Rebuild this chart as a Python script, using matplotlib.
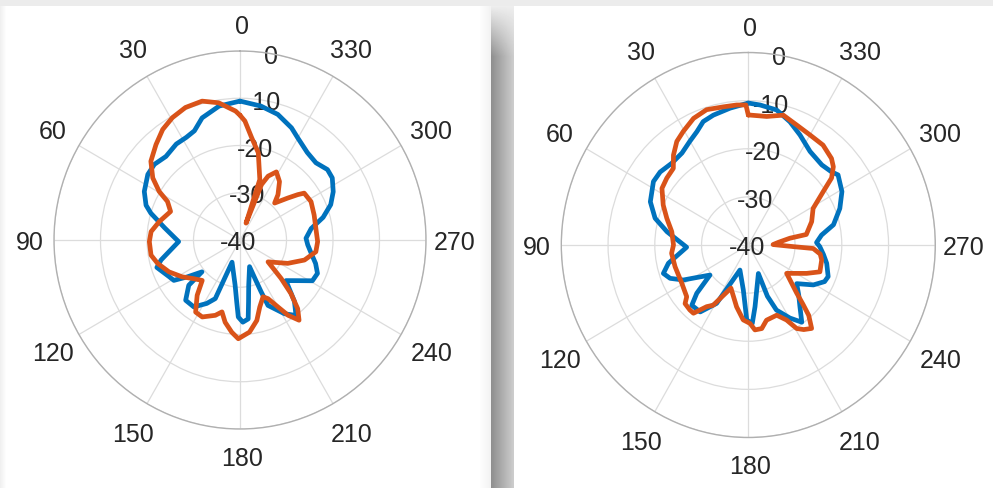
import numpy as np
import matplotlib
matplotlib.use("Agg")
import matplotlib.pyplot as plt
from matplotlib.ticker import NullFormatter

plt.rcParams["font.family"] = ["Liberation Sans", "DejaVu Sans"]

# ---- axes ticks -------------------------------------------------------------
theta_ticks = list(range(0, 360, 30))
theta_labels = [str(t) for t in theta_ticks]
r_ticks = [-40, -30, -20, -10, 0]
r_labels = [str(r) for r in r_ticks]

# ---- radiation patterns (angle in degrees, level in dB) ---------------------
left_blue_deg = [0, 9, 17.5, 23, 28, 34, 42, 49, 55, 63.5,
                 70, 73.5, 81, 91.5, 104, 108, 117, 121, 124.5, 129.5,
                 131, 137.5, 145, 152, 156.8, 160, 173.7, 176.9, 178.7, 182,
                 186, 188, 191, 200, 201.5, 202.5, 203.5, 211.5, 217, 222,
                 229, 235, 241, 247, 253, 260, 266, 271.5, 279, 285,
                 291, 297, 303.5, 308.4, 315, 322, 330, 335, 343, 351,
                 360]
left_blue_db = [-10.6, -11.3, -12.9, -14.9, -15.4, -15.5, -16.2, -15.6, -15.8, -17.0,
                -18.5, -20.0, -23.6, -26.8, -22.5, -21.2, -22.9, -23.4, -26.2, -29.4,
                -25.4, -22.7, -22.7, -24.8, -26.5, -35.0, -30.4, -26.9, -23.7, -22.6,
                -23.2, -26.8, -30.2, -34.0, -31.3, -28.2, -24.9, -21.7, -20.0, -22.5,
                -26.9, -25.0, -22.2, -21.9, -23.0, -24.5, -25.4, -25.8, -24.5, -21.5,
                -19.1, -17.5, -16.2, -16.0, -16.9, -16.5, -15.1, -13.8, -12.2, -11.3,
                -10.6]

left_orange_deg = [0, 2, 9, 15.5, 22.7, 29.3, 35.4, 41.8, 49, 55,
                   59.4, 62.4, 68, 77.4, 84.7, 91, 99.5, 105.6, 113.8, 122,
                   129.4, 136.5, 141.8, 148, 153.5, 161.6, 165.7, 169.6, 174.8, 179,
                   186, 192, 196.7, 202.4, 205.9, 210, 213, 216.8, 220.5, 224,
                   227.4, 232.5, 244.3, 253, 261.3, 268.8, 278.7, 288.4, 298, 305.7,
                   307.7, 310.8, 316.4, 319.6, 325.5, 331.5, 335.9, 338.5, 340, 341.6,
                   348, 353.4, 357.6, 360]
left_orange_db = [-13.6, -12.7, -10.6, -9.5, -9.6, -10.3, -11.3, -12.9, -14.6, -17.1,
                  -19.8, -22.4, -23.9, -22.2, -20.8, -20.5, -20.6, -21.6, -23.3, -25.3,
                  -27.1, -28.2, -25.1, -22.0, -21.8, -23.2, -24.3, -22.3, -20.4, -19.1,
                  -20.4, -22.6, -25.2, -27.0, -26.2, -23.6, -21.0, -18.8, -20.9, -24.2,
                  -28.0, -32.4, -28.6, -25.5, -23.5, -23.3, -23.5, -23.2, -22.7, -23.0,
                  -24.3, -26.4, -29.2, -27.4, -25.0, -23.6, -25.2, -27.4, -36.2, -26.5,
                  -21.1, -18.2, -14.8, -13.6]

right_blue_deg = [0, 7.8, 15.5, 20.6, 25, 30.2, 36.6, 44, 51.2, 57,
                  66.8, 74.4, 81, 92, 102.5, 108, 112.5, 117.6, 127.3, 132.3,
                  136, 143.5, 150.8, 161, 173.5, 178.8, 183, 186.4, 200, 201,
                  204, 210.4, 215.5, 220.8, 226, 232.2, 239.2, 245, 249, 257.2,
                  263, 268.7, 272, 277.5, 283, 291.2, 299, 307.2, 310.5, 316.6,
                  325.8, 334.2, 340.8, 347.8, 355, 360]
right_blue_db = [-10.5, -11.3, -12.0, -12.6, -14.0, -15.1, -16.2, -16.4, -15.8, -15.8,
                 -17.2, -19.3, -22.4, -26.8, -22.5, -20.9, -21.9, -24.3, -29.7, -25.1,
                 -22.6, -22.7, -26.1, -34.5, -30.6, -24.4, -23.7, -27.1, -33.7, -28.6,
                 -25.2, -22.4, -20.3, -23.1, -25.0, -26.9, -23.8, -22.0, -21.7, -22.8,
                 -23.8, -24.7, -25.4, -24.2, -21.3, -19.0, -17.1, -15.9, -16.6, -17.1,
                 -16.5, -14.6, -12.9, -11.3, -10.8, -10.5]

right_orange_deg = [0, 1, 4.9, 10.5, 17.6, 24, 30.5, 35.4, 40.6, 45.2,
                    51.4, 57.5, 65.5, 72.3, 80.4, 90, 96, 106, 119.4, 129.2,
                    132, 137.2, 140.4, 145.2, 149, 157.5, 169, 176, 181.3, 184.6,
                    189.4, 194, 202.6, 207.7, 210.8, 214, 218, 221.5, 223.5, 226,
                    234.3, 244.7, 250, 258.8, 263, 267, 268, 271, 275, 279,
                    280, 289.7, 298.7, 304.7, 308, 311.8, 315.3, 322.4, 330, 337.5,
                    344.5, 351.6, 359.2, 360]
right_orange_db = [-13.0, -10.9, -10.8, -10.8, -10.5, -11.2, -12.6, -13.6, -15.4, -17.4,
                   -17.7, -18.1, -20.0, -21.7, -23.4, -24.0, -23.5, -23.7, -23.7, -23.0,
                   -21.8, -21.6, -21.6, -24.4, -25.4, -30.3, -26.9, -24.4, -23.7, -22.3,
                   -22.4, -23.9, -24.2, -22.4, -19.8, -18.8, -18.0, -20.5, -23.0, -25.6,
                   -29.9, -26.2, -23.7, -24.0, -24.5, -26.1, -30.4, -34.7, -33.5, -31.0,
                   -27.4, -25.6, -24.2, -20.5, -17.4, -15.6, -14.7, -13.8, -13.6, -13.0,
                   -12.0, -13.0, -13.0, -13.0]

BLUE = "#0072BD"
ORANGE = "#D95319"
TEXT = "#262626"
FS = 18
PT = 0.72  # points per pixel at 100 dpi

W, H = 993, 488
fig = plt.figure(figsize=(W / 100, H / 100), dpi=100)

# ---- window backdrop with the drop shadow between the two figures -----------
bg = fig.add_axes([0, 0, 1, 1])
img = np.ones((H, W))
img[:6, :] = 0.925
img[:, :6] = np.minimum(img[:, :6], np.linspace(0.94, 0.99, 6)[None, :])
img[:, 480:491] = np.minimum(img[:, 480:491], np.linspace(0.99, 0.95, 11)[None, :])
shade = np.linspace(0.56, 0.80, 23)[None, :]
fade = np.clip((np.arange(H) - 6) / 50.0, 0, 1)[:, None]
img[:, 491:514] = np.minimum(img[:, 491:514], 0.93 - (0.93 - shade) * fade)
img[:6, 491:514] = 0.925
bg.imshow(img, cmap="gray", vmin=0, vmax=1, aspect="auto", interpolation="nearest")
bg.axis("off")


def polar_panel(rect, curves):
    ax = fig.add_axes(rect, projection="polar")
    ax.set_aspect("auto")
    ax.set_theta_zero_location("N")
    ax.set_theta_direction(1)
    ax.set_rlim(-40, 0)
    ax.set_rticks(r_ticks)
    ax.set_xticks(np.deg2rad(theta_ticks))
    ax.yaxis.set_major_formatter(NullFormatter())
    ax.xaxis.set_major_formatter(NullFormatter())
    ax.grid(True, color="#dcdcdc", lw=0.9)
    ax.spines["polar"].set_color("#b0b0b0")
    ax.spines["polar"].set_linewidth(1.0)

    # angle labels outside the rim; diagonal ones sit a little further out
    for t, lab in zip(theta_ticks, theta_labels):
        a = np.deg2rad(t)
        gap = 26.5 + 7.0 * abs(np.sin(2 * a))
        off = ((-np.sin(a) * gap + 2.0) * PT, (np.cos(a) * gap - 3.0) * PT)
        ax.annotate(lab, (a, 0), xytext=off, textcoords="offset points",
                    ha="center", va="center", fontsize=FS, color=TEXT,
                    annotation_clip=False, zorder=2)

    # radial level labels along the 350 degree spoke, underneath the traces
    for r, lab in zip(r_ticks, r_labels):
        ax.annotate(lab, (np.deg2rad(350), r), xytext=(-1.5 * PT, -3.0 * PT),
                    textcoords="offset points", ha="center", va="center",
                    fontsize=FS, color=TEXT, annotation_clip=False, zorder=2)

    for deg, db, col in curves:
        ax.plot(np.deg2rad(deg), db, color=col, lw=3.4,
                solid_joinstyle="round", solid_capstyle="round", zorder=3)
    return ax


polar_panel([54 / W, 59 / H, 372 / W, 378 / H],
            [(left_blue_deg, left_blue_db, BLUE),
             (left_orange_deg, left_orange_db, ORANGE)])
polar_panel([561.3 / W, 50.5 / H, 374 / W, 385 / H],
            [(right_blue_deg, right_blue_db, BLUE),
             (right_orange_deg, right_orange_db, ORANGE)])

fig.savefig("out.png", dpi=100)
